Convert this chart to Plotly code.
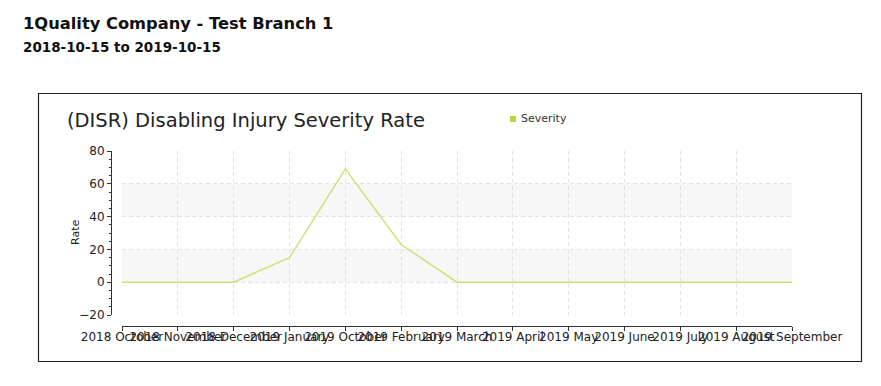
import plotly.graph_objects as go

categories = ["2018 October", "2018 November", "2018 December", "2019 January",
              "2019 October", "2019 February", "2019 March", "2019 April",
              "2019 May", "2019 June", "2019 July", "2019 August", "2019 September"]
severity = [0, 0, 0, 15, 69, 23, 0, 0, 0, 0, 0, 0, 0]
y_ticks = [-20, 0, 20, 40, 60, 80]
bands = [(0, 20), (40, 60)]

OFF = 8  # page body margin
W, H = 881 - OFF, 386 - OFF
L, R, T, B = 111 - OFF, 89, 151 - OFF, 60
PW, PH = W - L - R, H - T - B

def px(x):
    return (x - OFF - L) / PW

def py(y):
    return (H - B - (y - OFF)) / PH

fig = go.Figure()
fig.add_trace(go.Scatter(
    x=categories, y=severity, mode="lines",
    line=dict(color="rgba(205,220,100,0.9)", width=1.4),
    showlegend=False, hoverinfo="skip"))

shapes = []
for y0, y1 in bands:
    shapes.append(dict(type="rect", xref="x", yref="y", x0=0, x1=len(categories) - 1,
                       y0=y0, y1=y1, fillcolor="#f7f7f7", line=dict(width=0), layer="below"))
# outer frame
shapes.append(dict(type="rect", xref="paper", yref="paper", x0=px(38.5), x1=px(861.5),
                   y0=py(361.5), y1=py(93.5), line=dict(color="#222", width=1.2)))
# legend marker
shapes.append(dict(type="rect", xref="paper", yref="paper", x0=px(510), x1=px(516),
                   y0=py(122), y1=py(116), fillcolor="#b9d43c", line=dict(width=0)))

annotations = [
    dict(text="<b>1Quality Company - Test Branch 1</b>", xref="paper", yref="paper",
         x=px(21), y=py(24), xanchor="left", yanchor="middle", showarrow=False,
         font=dict(family="DejaVu Sans", size=16.3, color="#111")),
    dict(text="<b>2018-10-15 to 2019-10-15</b>", xref="paper", yref="paper",
         x=px(21), y=py(47), xanchor="left", yanchor="middle", showarrow=False,
         font=dict(family="DejaVu Sans", size=13.5, color="#111")),
    dict(text="(DISR) Disabling Injury Severity Rate", xref="paper", yref="paper",
         x=px(65), y=py(120), xanchor="left", yanchor="middle", showarrow=False,
         font=dict(family="DejaVu Sans", size=19.5, color="#222")),
    dict(text="Severity", xref="paper", yref="paper",
         x=px(519), y=py(118), xanchor="left", yanchor="middle", showarrow=False,
         font=dict(family="DejaVu Sans", size=11, color="#333")),
    dict(text="Rate", xref="paper", yref="paper", textangle=-90,
         x=px(75), y=py(233), xanchor="center", yanchor="middle", showarrow=False,
         font=dict(family="DejaVu Sans", size=11, color="#222")),
]

fig.update_layout(
    width=W, height=H,
    margin=dict(l=L, r=R, t=T, b=B, pad=0),
    paper_bgcolor="white", plot_bgcolor="white",
    shapes=shapes, annotations=annotations,
    showlegend=False,
    xaxis=dict(
        type="category", domain=[px(122), px(792)], range=[0, len(categories) - 1],
        anchor="free", position=0,
        showline=True, linecolor="#333", linewidth=1,
        ticks="outside", ticklen=4, tickcolor="#333", tickangle=0,
        ticklabelstandoff=-4,
        showgrid=True, gridcolor="#e2e2e2", griddash="4px,3px", gridwidth=1,
        tickfont=dict(family="DejaVu Sans", size=12, color="#222"),
        zeroline=False,
    ),
    yaxis=dict(
        domain=[py(315), py(151)], range=[-20, 80],
        anchor="free", position=0,
        tickvals=y_ticks,
        showline=True, linecolor="#333", linewidth=1,
        ticks="outside", ticklen=4, tickcolor="#333",
        minor=dict(dtick=5, ticks="outside", ticklen=2, tickcolor="#333", showgrid=False),
        showgrid=True, gridcolor="#e2e2e2", griddash="4px,3px", gridwidth=1,
        tickfont=dict(family="DejaVu Sans", size=12, color="#222"),
        zeroline=False,
    ),
)

fig.write_html("out.html")
